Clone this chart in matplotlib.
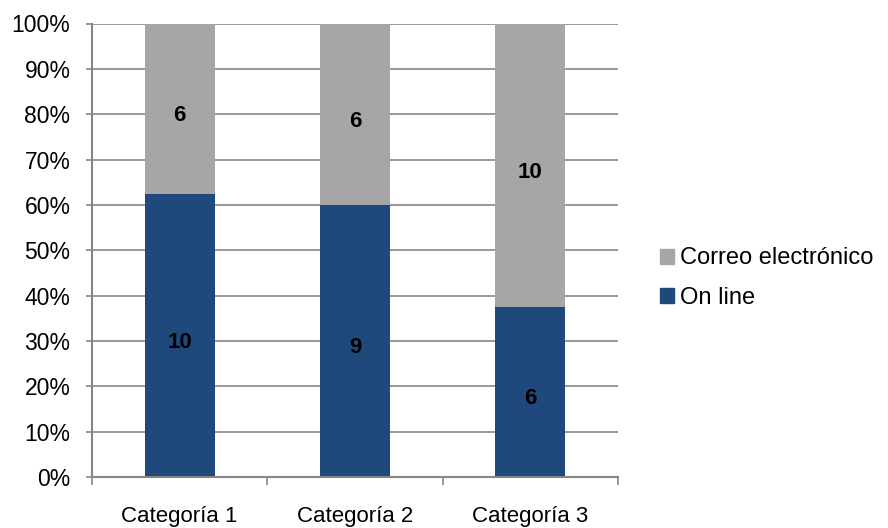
import numpy as np
import matplotlib
matplotlib.use("Agg")
import matplotlib.pyplot as plt
from matplotlib.patches import Patch
from matplotlib.ticker import FixedLocator

plt.rcParams["font.family"] = ["Liberation Sans", "DejaVu Sans"]

categories = ["Categoría 1", "Categoría 2", "Categoría 3"]
online = [10, 9, 6]
correo = [6, 6, 10]

BLUE = "#1F497D"
GREY = "#A6A6A6"
AXIS = "#868686"

online = np.array(online, dtype=float)
correo = np.array(correo, dtype=float)
total = online + correo
p_online = online / total * 100
p_correo = correo / total * 100

fig = plt.figure(figsize=(8.88, 5.28), dpi=100)
ax = fig.add_axes([92 / 888, 51 / 528, 526 / 888, 453.5 / 528])

x = np.arange(len(categories))
ax.bar(x, p_online, width=0.4, color=BLUE, zorder=2)
ax.bar(x, p_correo, width=0.4, bottom=p_online, color=GREY, zorder=2)

# labels sit a few pixels below the segment centre, as in the original
for i in range(len(categories)):
    for val, yc in [(online[i], p_online[i] / 2),
                    (correo[i], p_online[i] + p_correo[i] / 2)]:
        ax.annotate(f"{int(val)}", (x[i], yc), xytext=(0, -5), textcoords="offset points",
                    ha="center", va="center", fontsize=16, fontweight="bold",
                    color="black", zorder=3)

ax.set_xlim(-0.5, len(categories) - 0.5)
ax.set_ylim(0, 100)
ax.set_yticks(np.arange(0, 101, 10))
ax.set_yticklabels([f"{v}%" for v in range(0, 101, 10)])
ax.yaxis.grid(True, color=AXIS, linewidth=1.2, zorder=0)
ax.set_axisbelow(True)

ax.set_xticks(x)
ax.set_xticklabels(categories)
ax.xaxis.set_minor_locator(FixedLocator(np.arange(-0.5, len(categories), 1.0)))
ax.tick_params(axis="x", which="major", length=0, pad=21, labelsize=16)
ax.tick_params(axis="x", which="minor", length=5.5, width=1.2, color=AXIS, direction="out")
ax.tick_params(axis="y", length=4.5, width=1.2, color=AXIS, labelsize=16.5, pad=11)

for s in ["top", "right"]:
    ax.spines[s].set_visible(False)
for s in ["left", "bottom"]:
    ax.spines[s].set_color(AXIS)
    ax.spines[s].set_linewidth(1.5)

handles = [Patch(color=GREY, label="Correo electrónico"),
           Patch(color=BLUE, label="On line")]
fig.legend(handles=handles, loc="center left", bbox_to_anchor=(648 / 888, 1 - 278 / 528),
           frameon=False, fontsize=17, handlelength=0.6, handleheight=0.6,
           handletextpad=0.25, labelspacing=0.72, borderpad=0)

fig.savefig("out.png", dpi=100, facecolor="white")
